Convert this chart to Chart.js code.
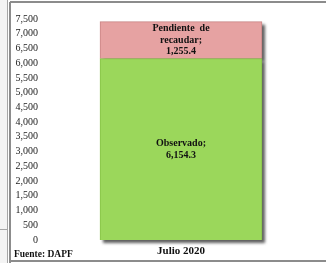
<!DOCTYPE html>
<html>
<head>
<meta charset="utf-8">
<style>
  html, body { margin: 0; padding: 0; background: #fff; }
  #wrap { position: relative; width: 326px; height: 263px; }
</style>
<script src="https://cdn.jsdelivr.net/npm/chart.js@4/dist/chart.umd.min.js"></script>
</head>
<body>
<div id="wrap"><canvas id="recaudoChart" width="326" height="263"></canvas></div>
<script>
const categories = ["Julio 2020"];
const seriesNames = ["Observado", "Pendiente de recaudar"];
const observado = [6154.3];
const pendiente = [1255.4];
const yTicks = [0, 500, 1000, 1500, 2000, 2500, 3000, 3500, 4000, 4500, 5000, 5500, 6000, 6500, 7000, 7500];

const serif = "'Liberation Serif', 'Times New Roman', serif";

function fmt(v) {
    return v.toLocaleString("en-US", { minimumFractionDigits: 1, maximumFractionDigits: 1 });
}

// frame lines from the spreadsheet around the chart
const framePlugin = {
    id: "frame",
    beforeDraw(chart) {
        const c = chart.ctx;
        c.save();
        c.fillStyle = "#ffffff";
        c.fillRect(0, 0, chart.width, chart.height);
        c.fillStyle = "#f4f4f4";
        c.fillRect(0, 0, 8, chart.height);
        c.strokeStyle = "#a6a6a6";
        c.lineWidth = 1;
        c.beginPath();
        c.moveTo(0, 229.5); c.lineTo(8, 229.5);
        c.moveTo(7.5, 0); c.lineTo(7.5, chart.height);
        c.stroke();
        c.strokeStyle = "#8c8c8c";
        c.lineWidth = 2;
        c.beginPath();
        c.moveTo(10, 2); c.lineTo(chart.width, 2);
        c.moveTo(10, 2); c.lineTo(10, chart.height);
        c.moveTo(10, 261); c.lineTo(chart.width, 261);
        c.stroke();
        c.restore();
    },
    afterDraw(chart) {
        const c = chart.ctx;
        c.save();
        c.fillStyle = "#111";
        c.font = "bold 9.5px " + serif;
        c.textBaseline = "middle";
        c.fillText("Fuente: DAPF", 14, 255);
        c.restore();
    }
};

// soft drop shadow behind the stacked bar
const shadowPlugin = {
    id: "barShadow",
    beforeDatasetsDraw(chart) {
        const c = chart.ctx;
        c.save();
        c.filter = "blur(1.5px)";
        c.fillStyle = "rgba(40,40,40,0.75)";
        chart.data.datasets.forEach((ds, i) => {
            chart.getDatasetMeta(i).data.forEach(bar => {
                const p = bar.getProps(["x", "y", "base", "width"], true);
                const top = Math.min(p.y, p.base);
                const h = Math.abs(p.base - p.y);
                c.fillRect(p.x - p.width / 2 + 3, top + 3, p.width, h);
            });
        });
        c.restore();
    }
};

// labels inside each segment
const segmentLabels = {
    id: "segmentLabels",
    afterDatasetsDraw(chart) {
        const c = chart.ctx;
        c.save();
        c.fillStyle = "#111";
        c.font = "bold 10px " + serif;
        c.textAlign = "center";
        c.textBaseline = "middle";
        const lines = [
            v => ["Observado;", fmt(v)],
            v => ["Pendiente  de", "recaudar;", fmt(v)]
        ];
        chart.data.datasets.forEach((ds, i) => {
            const meta = chart.getDatasetMeta(i);
            meta.data.forEach((bar, j) => {
                const p = bar.getProps(["x", "y", "base"], true);
                const mid = (p.y + p.base) / 2;
                const txt = lines[i](ds.data[j]);
                const lh = 11.5;
                txt.forEach((t, k) => {
                    c.fillText(t, p.x, mid + (k - (txt.length - 1) / 2) * lh);
                });
            });
        });
        c.restore();
    }
};

new Chart(document.getElementById("recaudoChart"), {
    type: "bar",
    data: {
        labels: categories,
        datasets: [
            {
                label: seriesNames[0],
                data: observado,
                backgroundColor: "#9bd75b",
                borderColor: "#86c247",
                borderWidth: 1,
                barThickness: 162
            },
            {
                label: seriesNames[1],
                data: pendiente,
                backgroundColor: "#e6a2a2",
                borderColor: "#c98585",
                borderWidth: 1,
                barThickness: 162
            }
        ]
    },
    options: {
        responsive: false,
        animation: false,
        layout: { padding: { top: 19, left: 12, right: 5, bottom: 0 } },
        plugins: {
            legend: { display: false },
            tooltip: { enabled: false }
        },
        scales: {
            x: {
                stacked: true,
                grid: { display: false, drawTicks: false },
                border: { display: false },
                afterFit: axis => { axis.height = 23; },
                ticks: {
                    color: "#111",
                    padding: 5,
                    font: { family: serif, size: 11, weight: "bold", lineHeight: 1.1 }
                }
            },
            y: {
                stacked: true,
                min: yTicks[0],
                max: yTicks[yTicks.length - 1],
                afterBuildTicks: axis => { axis.ticks = yTicks.map(v => ({ value: v })); },
                afterFit: axis => { axis.width = 29; },
                grid: { display: false, drawTicks: false },
                border: { display: false },
                ticks: {
                    color: "#222",
                    padding: 3,
                    autoSkip: false,
                    font: { family: serif, size: 10 },
                    callback: v => v.toLocaleString("en-US")
                }
            }
        }
    },
    plugins: [framePlugin, shadowPlugin, segmentLabels]
});
</script>
</body>
</html>
